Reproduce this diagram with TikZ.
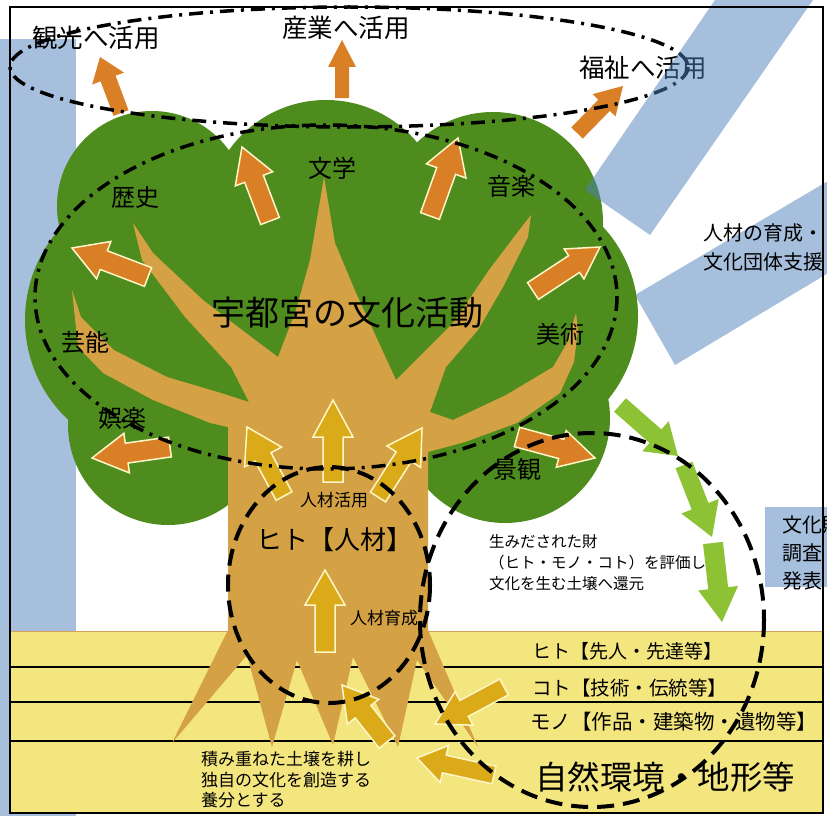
\documentclass[tikz,border=0pt]{standalone}
\usepackage{fontspec}
\setmainfont{Noto Sans CJK JP}
\usetikzlibrary{calc}

\definecolor{leaf}{RGB}{78,140,30}
\definecolor{bark}{RGB}{212,161,68}
\definecolor{arrorange}{RGB}{217,128,38}
\definecolor{arrgold}{RGB}{218,170,24}
\definecolor{arrlime}{RGB}{140,194,52}
\definecolor{cream}{RGB}{255,246,200}
\definecolor{soil}{RGB}{244,230,126}
\definecolor{soiledge}{RGB}{214,160,90}
\definecolor{bandblue}{RGB}{79,129,189}

% block arrow: #1 style, #2 tail, #3 tip, #4 half shaft width, #5 half head width, #6 head length
\newcommand{\blockarr}[6]{%
  \coordinate (ba-t) at #2;
  \coordinate (ba-h) at #3;
  \coordinate (ba-b) at ($(ba-h)!#6pt!(ba-t)$);
  \path[#1] ($(ba-t)!#4pt!90:(ba-h)$) -- ($(ba-b)!#4pt!90:(ba-h)$)
    -- ($(ba-b)!#5pt!90:(ba-h)$) -- (ba-h) -- ($(ba-b)!#5pt!-90:(ba-h)$)
    -- ($(ba-b)!#4pt!-90:(ba-h)$) -- ($(ba-t)!#4pt!-90:(ba-h)$) -- cycle;
}

\tikzset{
  lbl/.style={inner sep=0pt, text=black},
  fs/.style={font=\fontsize{#1}{#1}\selectfont},
  band/.style={fill=bandblue, fill opacity=0.5},
  orangeout/.style={fill=arrorange, draw=cream, line width=1.5pt, line join=miter},
  orangeplain/.style={fill=arrorange},
  goldout/.style={fill=arrgold, draw=cream, line width=1.5pt, line join=miter},
  limeplain/.style={fill=arrlime},
  dashdot/.style={draw=black, line width=3.5pt, dash pattern=on 14pt off 7pt on 3pt off 7pt},
  longdash/.style={draw=black, line width=4pt, dash pattern=on 17pt off 9pt},
}

\begin{document}
\begin{tikzpicture}[x=1pt,y=-1pt]
\useasboundingbox (0,0) rectangle (827,816);
\clip (0,0) rectangle (827,816);
\fill[white] (0,0) rectangle (827,816);

% blue bands behind the tree
\path[band] (0,39) rectangle (76,816);
\path[band] (635,295) -- (675,365) -- (850,260) -- (850,168) -- cycle;
\path[band] (765,507) rectangle (850,587);

% soil layers
\fill[soil] (10,631) rectangle (823,813);
\draw[soiledge, line width=1pt] (10,631) -- (823,631);
\foreach \yy in {667,702,741} \draw[black, line width=1.5pt] (10,\yy) -- (823,\yy);

% crown
\fill[leaf] (152,206) circle (95);
\fill[leaf] (326,219) circle (119);
\fill[leaf] (493,222) circle (110);
\fill[leaf] (507,316) circle (131);
\fill[leaf] (505,418) circle (105);
\fill[leaf] (162,320) circle (137);
\fill[leaf] (168,425) circle (100);
\fill[leaf] (330,320) circle (150);

% trunk, branches and roots
\fill[bark] (228,630) -- (228,427) -- (210,423) -- (153,400) -- (103,373) -- (78,347)
  -- (72,290) -- (81,317) -- (114,350) -- (167,377) -- (221,393) -- (249,402)
  -- (231,367) -- (185,317) -- (142,260) -- (133,223) -- (153,253) -- (203,300)
  -- (246,333) -- (278,357) -- (296,310) -- (310,260) -- (324,177) -- (335,243)
  -- (356,293) -- (396,380) -- (453,323) -- (489,270) -- (517,233) -- (531,215)
  -- (528,237) -- (503,287) -- (478,330) -- (446,367) -- (430,412) -- (453,420)
  -- (506,395) -- (553,367) -- (567,343) -- (576,313) -- (578,330) -- (574,362)
  -- (560,393) -- (517,423) -- (465,442) -- (428,452) -- (428,630)
  -- (478,747) -- (417,660) -- (398,747) -- (353,657) -- (333,745) -- (297,660)
  -- (272,747) -- (247,655) -- (172,743) -- cycle;

% labels
\node[lbl, fs=25.5] (kanko) at (96,38) {観光へ活用};
\node[lbl, fs=25.5] (sangyo) at (346,28) {産業へ活用};
\node[lbl, fs=25.5] (fukushi) at (643,68) {福祉へ活用};
\node[lbl, fs=24] (rekishi) at (135,197) {歴史};
\node[lbl, fs=24] (bungaku) at (332,168) {文学};
\node[lbl, fs=24] (ongaku) at (511,186) {音楽};
\node[lbl, fs=24] (geino) at (85,342) {芸能};
\node[lbl, fs=24] (bijutsu) at (560,334) {美術};
\node[lbl, fs=24] (goraku) at (122,418) {娯楽};
\node[lbl, fs=24] (keikan) at (517,469) {景観};
\node[lbl, fs=34] (title) at (347,313) {宇都宮の文化活動};
\node[lbl, fs=17] (katsuyo) at (334,500) {人材活用};
\node[lbl, fs=26] (hito) at (334,540) {ヒト【人材】};
\node[lbl, fs=17] (ikusei) at (384,618) {人材育成};
\node[lbl, anchor=west, align=left, font=\fontsize{15.5}{21}\selectfont] (hyoka) at (489,563)
  {生みだされた財\\（ヒト・モノ・コト）を評価し\\文化を生む土壌へ還元};
\node[lbl, anchor=west, align=left, font=\fontsize{20}{29}\selectfont] (shien) at (703,247)
  {人材の育成・\\文化団体支援};
\node[lbl, anchor=west, align=left, font=\fontsize{20}{28}\selectfont] (chosa) at (782,553)
  {文化財\\調査\\発表};
\node[lbl, anchor=west, fs=19] (sente) at (532,651) {ヒト【先人・先達等】};
\node[lbl, anchor=west, fs=19.5] (giju) at (532,688) {コト【技術・伝統等】};
\node[lbl, anchor=west, fs=20.5] (sakuhin) at (530,722) {モノ【作品・建築物・遺物等】};
\node[lbl, anchor=west, fs=32.5] (shizen) at (535,777) {自然環境・地形等};
\node[lbl, anchor=west, align=left, font=\fontsize{17}{20.5}\selectfont] (tsumi) at (201,780)
  {積み重ねた土壌を耕し\\独自の文化を創造する\\養分とする};

% arrows out of the crown
\blockarr{orangeout}{(270,221)}{(242,147)}{10}{20}{34}
\blockarr{orangeout}{(430,216)}{(458,138)}{10}{21}{35}
\blockarr{orangeout}{(533,291)}{(600,247)}{10}{18}{31}
\blockarr{orangeout}{(148,277)}{(72,248)}{10}{20}{34}
\blockarr{orangeout}{(170,447)}{(92,458)}{10}{20}{35}
\blockarr{orangeout}{(517,437)}{(595,458)}{10}{19}{35}
\blockarr{orangeplain}{(121,113)}{(100,57)}{8}{17}{23}
\blockarr{orangeplain}{(342,98)}{(342,40)}{7}{14}{27}
\blockarr{orangeplain}{(577,133)}{(623,86)}{8}{16}{27}

% arrows in the trunk and roots
\blockarr{goldout}{(333,482)}{(333,400)}{10}{20}{37}
\blockarr{goldout}{(284,496)}{(247,427)}{9}{21}{34}
\blockarr{goldout}{(378,497)}{(422,428)}{9}{20}{34}
\blockarr{goldout}{(325,652)}{(325,570)}{10}{20}{35}
\blockarr{goldout}{(387,742)}{(342,685)}{10}{20}{34}
\blockarr{goldout}{(504,687)}{(435,724)}{9}{19}{33}
\blockarr{goldout}{(494,775)}{(417,758)}{9}{19}{28}

% return flow towards the soil
\blockarr{limeplain}{(620,405)}{(678,456)}{9}{20}{30}
\blockarr{limeplain}{(684,465)}{(712,537)}{9}{20}{33}
\blockarr{limeplain}{(713,543)}{(722,622)}{10}{20}{34}

% grouping outlines
\draw[dashdot] (349,67) ellipse [x radius=339, y radius=60];
\draw[dashdot] (326,297) ellipse [x radius=291, y radius=172];
\draw[longdash] (329,585) ellipse [x radius=101, y radius=118];
\draw[longdash] (592,620) ellipse [x radius=172, y radius=187];

% band crossing the upper right
\path[band] (715,0) -- (813,0) -- (650,235) -- (585,190) -- cycle;

% frame
\draw[black, line width=1.2pt] (10,7) rectangle (823,813);
\end{tikzpicture}
\end{document}
